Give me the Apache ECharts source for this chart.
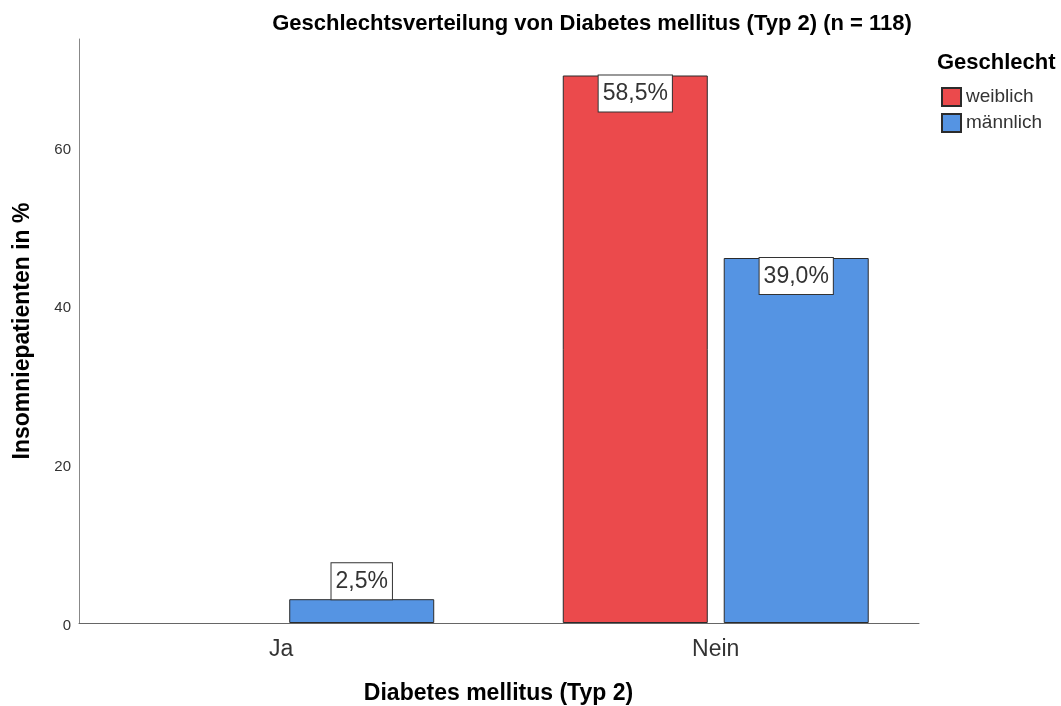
<!DOCTYPE html>
<html>
<head>
<meta charset="utf-8">
<script src="https://cdn.jsdelivr.net/npm/echarts@6/dist/echarts.min.js"></script>
<style>
  html, body { margin: 0; padding: 0; background: #fff; }
  #chart { width: 1061px; height: 706px; }
</style>
</head>
<body>
<div id="chart"></div>
<script>
// Diabetes status (x categories)
const categories = ['Ja', 'Nein'];
// Patient counts per sex and category
const weiblich = [0, 69];
const maennlich = [3, 46];
// Total sample size, used for the percentage labels
const totalN = 118;
// Value-axis range and step
const yMin = 0;
const yMax = 73.6;
const yStep = 20;

const FONT = '"Liberation Sans", Arial, sans-serif';

function pctLabel(p) {
  const pct = p.value / totalN * 100;
  return pct.toFixed(1).replace('.', ',') + '%';
}

function buildData(values) {
  return values.map(function (v) {
    if (v === 0) {
      return { value: v, itemStyle: { opacity: 0, borderWidth: 0 }, label: { show: false } };
    }
    if (v < 10) {
      return { value: v, label: { position: 'top' } };
    }
    return v;
  });
}

const labelStyle = {
  show: true,
  position: 'insideTop',
  distance: 0,
  formatter: pctLabel,
  fontFamily: FONT,
  fontSize: 23,
  lineHeight: 27,
  color: '#333',
  backgroundColor: '#fff',
  borderColor: '#333',
  borderWidth: 1,
  padding: [5, 4, 4, 4]
};

const chart = echarts.init(document.getElementById('chart'), null, { renderer: 'canvas' });

chart.setOption({
  animation: false,
  backgroundColor: '#fff',
  title: [
    {
      text: 'Geschlechtsverteilung von Diabetes mellitus (Typ 2) (n = 118)',
      left: 592,
      textAlign: 'center',
      top: 13,
      padding: 0,
      textStyle: { fontFamily: FONT, fontSize: 22, fontWeight: 'bold', color: '#000' }
    },
    {
      text: 'Geschlecht',
      left: 937,
      top: 52,
      padding: 0,
      textStyle: { fontFamily: FONT, fontSize: 22, fontWeight: 'bold', color: '#000' }
    }
  ],
  legend: {
    orient: 'vertical',
    left: 941,
    top: 87,
    padding: 0,
    itemWidth: 19,
    itemHeight: 18,
    itemGap: 6,
    icon: 'rect',
    textStyle: { fontFamily: FONT, fontSize: 19, lineHeight: 18, color: '#333' },
    data: ['weiblich', 'männlich']
  },
  grid: [
    // frame grid carrying the axis lines and value labels
    { left: 79, right: 142, top: 39, bottom: 83, outerBoundsMode: 'none', containLabel: false },
    // bar grid with the category bands
    { left: 64, right: 128, top: 39, bottom: 83, outerBoundsMode: 'none', containLabel: false }
  ],
  xAxis: [
    {
      gridIndex: 0,
      type: 'value',
      min: 0,
      max: 1,
      axisLine: { show: true, lineStyle: { color: '#666', width: 1 } },
      axisTick: { show: false },
      axisLabel: { show: false },
      splitLine: { show: false }
    },
    {
      gridIndex: 1,
      type: 'category',
      data: categories,
      axisLine: { show: false },
      axisTick: { show: false },
      axisLabel: { fontFamily: FONT, fontSize: 23, color: '#333', margin: 15 },
      name: 'Diabetes mellitus (Typ 2)',
      nameLocation: 'middle',
      nameGap: 59,
      nameTextStyle: { fontFamily: FONT, fontSize: 23, fontWeight: 'bold', color: '#000' }
    }
  ],
  yAxis: [
    {
      gridIndex: 0,
      type: 'value',
      min: yMin,
      max: yMax,
      interval: yStep,
      axisLine: { show: true, lineStyle: { color: '#888', width: 1 } },
      axisTick: { show: false },
      splitLine: { show: false },
      axisLabel: {
        fontFamily: FONT, fontSize: 15, color: '#333', margin: 8, showMaxLabel: false,
        formatter: function (v) { return '{t|' + v + '}'; },
        rich: { t: { fontFamily: FONT, fontSize: 15, color: '#333', padding: [5, 0, 0, 0] } }
      },
      name: 'Insomniepatienten in %',
      nameLocation: 'middle',
      nameRotate: 90,
      nameGap: 45,
      nameTextStyle: { fontFamily: FONT, fontSize: 23, fontWeight: 'bold', color: '#000' }
    },
    {
      gridIndex: 1,
      type: 'value',
      min: yMin,
      max: yMax,
      interval: yStep,
      show: false
    }
  ],
  series: [
    {
      name: 'weiblich',
      type: 'bar',
      xAxisIndex: 1,
      yAxisIndex: 1,
      barWidth: 145,
      barGap: '11%',
      data: buildData(weiblich),
      itemStyle: { color: '#EB4A4C', borderColor: '#2b2b2b', borderWidth: 1 },
      label: labelStyle
    },
    {
      name: 'männlich',
      type: 'bar',
      xAxisIndex: 1,
      yAxisIndex: 1,
      barWidth: 145,
      barGap: '11%',
      data: buildData(maennlich),
      itemStyle: { color: '#5594E3', borderColor: '#2b2b2b', borderWidth: 1 },
      label: labelStyle
    }
  ]
});
</script>
</body>
</html>
